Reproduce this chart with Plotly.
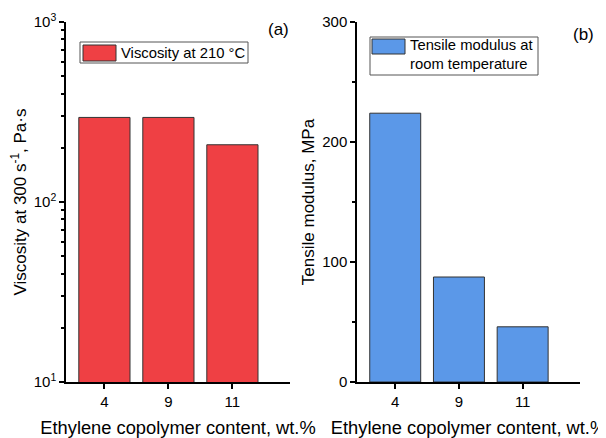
import plotly.graph_objects as go

# ---- data ----
categories = ["4", "9", "11"]
viscosity = [295, 295, 208]          # Pa·s at 300 s^-1, 210 °C
tensile_modulus = [224, 87.5, 46]    # MPa, room temperature

visc_ticks = [10, 100, 1000]
visc_ticklabels = ["10<sup>1</sup>", "10<sup>2</sup>", "10<sup>3</sup>"]
visc_minor = [20, 30, 40, 50, 60, 70, 80, 90, 200, 300, 400, 500, 600, 700, 800, 900]
mod_ticks = [0, 100, 200, 300]
mod_minor = [50, 150, 250]

RED = "#EF4044"
BLUE = "#5B98E8"
EDGE = "#333333"
FONT = "Liberation Sans, Arial, sans-serif"

# page body has an 8px margin: size the figure to fill the rest of the window
OFF = 8
W, H = 606 - OFF, 438 - OFF
T = 22 - OFF
B = H - (382 - OFF)
PH = H - T - B


def px(x):
    """screen x (window pixels) -> paper x"""
    return (x - OFF) / W


def py(y):
    """screen y (window pixels) -> paper y"""
    return (H - B - (y - OFF)) / PH


xpos = list(range(len(categories)))

fig = go.Figure()
fig.add_trace(go.Bar(x=xpos, y=viscosity, width=0.8, marker=dict(color=RED, line=dict(color=EDGE, width=1)),
                     name="Viscosity at 210 °C", xaxis="x", yaxis="y", showlegend=False))
fig.add_trace(go.Bar(x=xpos, y=tensile_modulus, width=0.8, marker=dict(color=BLUE, line=dict(color=EDGE, width=1)),
                     name="Tensile modulus at room temperature", xaxis="x2", yaxis="y2", showlegend=False))

axis_common = dict(showline=True, linecolor="black", linewidth=1.5, ticks="outside", ticklen=5,
                   tickwidth=1.5, tickcolor="black", showgrid=False, zeroline=False, automargin=False,
                   tickfont=dict(size=15, color="black", family=FONT))

xtitle = dict(text="Ethylene copolymer content, wt.%", font=dict(size=18.3, color="black", family=FONT), standoff=12)

fig.update_layout(
    width=W, height=H,
    margin=dict(l=0, r=0, t=T, b=B),
    plot_bgcolor="white", paper_bgcolor="white",
    font=dict(family=FONT, color="black"),
    xaxis=dict(domain=[px(66), px(290)], range=[-0.6, 2.9], tickvals=xpos, ticktext=categories,
               title=xtitle, anchor="y", **axis_common),
    yaxis=dict(domain=[0, 1], type="log", range=[1, 3], tickvals=visc_ticks, ticktext=visc_ticklabels,
               minor=dict(tickvals=visc_minor, ticks="outside", ticklen=3, tickwidth=1.5, tickcolor="black"),
               title=dict(text="Viscosity at 300 s<sup>-1</sup>, Pa·s", font=dict(size=17, color="black", family=FONT), standoff=4),
               anchor="x", **axis_common),
    xaxis2=dict(domain=[px(357), px(580)], range=[-0.6, 2.9], tickvals=xpos, ticktext=categories,
                title=xtitle, anchor="y2", **axis_common),
    yaxis2=dict(domain=[0, 1], range=[0, 300], tickvals=mod_ticks,
                minor=dict(tickvals=mod_minor, ticks="outside", ticklen=3, tickwidth=1.5, tickcolor="black"),
                title=dict(text="Tensile modulus, MPa", font=dict(size=17, color="black", family=FONT), standoff=3),
                anchor="x2", **axis_common),
    bargap=0.2,
)

shapes = [
    # legend (a)
    dict(type="rect", xref="paper", yref="paper", x0=px(80), x1=px(248), y0=py(63), y1=py(42),
         line=dict(color="#555555", width=1), fillcolor="white"),
    dict(type="rect", xref="paper", yref="paper", x0=px(83), x1=px(116), y0=py(61), y1=py(45),
         line=dict(color=EDGE, width=1), fillcolor=RED),
    # legend (b)
    dict(type="rect", xref="paper", yref="paper", x0=px(370), x1=px(538), y0=py(75), y1=py(37),
         line=dict(color="#555555", width=1), fillcolor="white"),
    dict(type="rect", xref="paper", yref="paper", x0=px(372), x1=px(405), y0=py(54), y1=py(39),
         line=dict(color=EDGE, width=1), fillcolor=BLUE),
]
fig.update_layout(shapes=shapes)

annotations = [
    dict(text="Viscosity at 210 °C", x=px(119), y=py(52.5), xref="paper", yref="paper",
         xanchor="left", yanchor="middle", showarrow=False, font=dict(size=14.8, color="black", family=FONT)),
    dict(text="Tensile modulus at<br>room temperature", x=px(408), y=py(54.5), xref="paper", yref="paper",
         xanchor="left", yanchor="middle", align="left", showarrow=False,
         font=dict(size=14.8, color="black", family=FONT)),
    dict(text="(a)", x=px(278), y=py(29), xref="paper", yref="paper", xanchor="center", yanchor="middle",
         showarrow=False, font=dict(size=17, color="black", family=FONT)),
    dict(text="(b)", x=px(583), y=py(35), xref="paper", yref="paper", xanchor="center", yanchor="middle",
         showarrow=False, font=dict(size=17, color="black", family=FONT)),
]
fig.update_layout(annotations=annotations)

fig.write_html("out.html")
